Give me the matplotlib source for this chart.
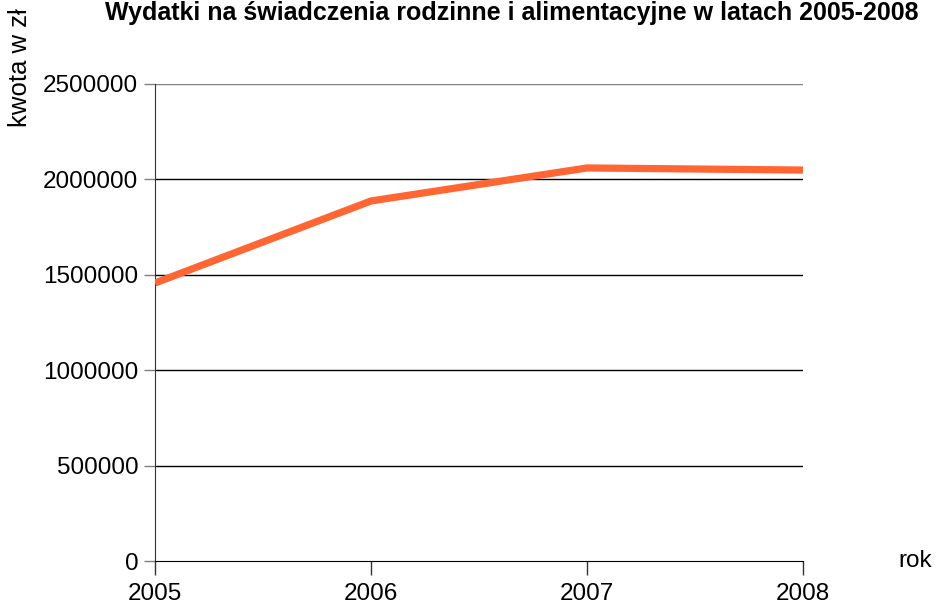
import matplotlib
matplotlib.use('Agg')
import matplotlib.pyplot as plt

lata = [2005, 2006, 2007, 2008]
kwoty = [1457000, 1887000, 2060000, 2049000]
yticks = [0, 500000, 1000000, 1500000, 2000000, 2500000]

plt.rcParams['font.family'] = ['Liberation Sans', 'DejaVu Sans']

fig = plt.figure(figsize=(9.38, 6.04), dpi=100)
ax = fig.add_axes([155/938, 1-561/604, (803-155)/938, (561-84)/604])

# siatka pozioma
for v in yticks[1:-1]:
    ax.axhline(v, color='black', lw=1, zorder=1)
ax.axhline(yticks[-1], color='#808080', lw=1, zorder=1)

ax.plot(lata, kwoty, color='#ff6633', lw=5.2, solid_capstyle='butt', zorder=3)

ax.set_xlim(2005, 2008)
ax.set_ylim(0, 2500000)
ax.set_xticks(lata)
ax.set_xticklabels([str(r) for r in lata])
ax.set_yticks(yticks)
ax.set_yticklabels([str(v) for v in yticks])

for s in ['top', 'right']:
    ax.spines[s].set_visible(False)
ax.spines['left'].set_color('#333333')
ax.spines['bottom'].set_color('black')
ax.tick_params(axis='y', direction='out', length=8, width=1, color='#808080', labelsize=17.5, pad=4)
ax.tick_params(axis='x', direction='out', length=10, width=1, color='#333333', labelsize=17.5, pad=6)

fig.text(105/938, 1-20/604, 'Wydatki na świadczenia rodzinne i alimentacyjne w latach 2005-2008',
         fontsize=18, fontweight='bold', ha='left', va='baseline')
fig.text(20/938, 1-68/604, 'kwota w zł', fontsize=18.5, rotation=90, ha='center', va='center')
fig.text(915/938, 1-561/604, 'rok', fontsize=17.5, ha='center', va='center')

fig.savefig('out.png', dpi=100)
